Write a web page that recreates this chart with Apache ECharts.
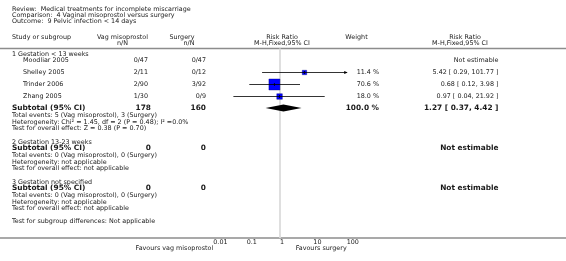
<!DOCTYPE html>
<html>
<head>
<meta charset="utf-8">
<script src="https://cdn.jsdelivr.net/npm/echarts@6/dist/echarts.min.js"></script>
<style>
  html, body { margin: 0; padding: 0; background: #fff; }
  #chart { width: 566px; height: 261px; }
</style>
</head>
<body>
<div id="chart"></div>
<script>
// ---- data ----
const titleLines = [
  "Review:  Medical treatments for incomplete miscarriage",
  "Comparison:  4 Vaginal misoprostol versus surgery",
  "Outcome:  9 Pelvic infection < 14 days",
];
const groupNames = ["1 Gestation < 13 weeks", "2 Gestation 13-23 weeks", "3 Gestation not specified"];

const studyNames = ["Moodliar 2005", "Shelley 2005", "Trinder 2006", "Zhang 2005"];
const studyGroup = [0, 0, 0, 0];
const studyVag = ["0/47", "2/11", "2/90", "1/30"];
const studySurg = ["0/47", "0/12", "3/92", "0/9"];
const studyRR = [null, 5.42, 0.68, 0.97];
const studyLo = [null, 0.29, 0.12, 0.04];
const studyHi = [null, 101.77, 3.98, 21.92];
const studyWeight = [null, 11.4, 70.6, 18.0];

const subVag = [178, 0, 0];
const subSurg = [160, 0, 0];
const subRR = [1.27, null, null];
const subLo = [0.37, null, null];
const subHi = [4.42, null, null];
const subWeight = [100.0, null, null];

const totalEvents = [
  "Total events: 5 (Vag misoprostol), 3 (Surgery)",
  "Total events: 0 (Vag misoprostol), 0 (Surgery)",
  "Total events: 0 (Vag misoprostol), 0 (Surgery)",
];
const heterogeneity = [
  "Heterogeneity: Chi² = 1.45, df = 2 (P = 0.48); I² =0.0%",
  "Heterogeneity: not applicable",
  "Heterogeneity: not applicable",
];
const overallEffect = [
  "Test for overall effect: Z = 0.38 (P = 0.70)",
  "Test for overall effect: not applicable",
  "Test for overall effect: not applicable",
];
const subgroupDiff = "Test for subgroup differences: Not applicable";
const axisTicks = [0.01, 0.1, 1, 10, 100];
const favoursLeft = "Favours vag misoprostol";
const favoursRight = "Favours surgery";

// ---- layout ----
const FONT = '"DejaVu Sans", Verdana, sans-serif';
const normal = "6.4px " + FONT;
const bold = "bold 7.4px " + FONT;
const ink = "#1a1a1a";
const plotLeft = 213.3, plotWidth = 133.4, axisY = 238, headerLineY = 48.5;
const colVag = 148, colSurg = 206, colWeight = 379, colRR = 498.5;

const fmtCI = (rr, lo, hi) => `${rr.toFixed(2)} [ ${lo.toFixed(2)}, ${hi.toFixed(2)} ]`;

const texts = [];
const txt = (text, x, y, font, align) =>
  texts.push({
    type: "text", x: x, y: y, silent: true,
    style: { text: text, font: font || normal, fill: ink, align: align || "left", verticalAlign: "middle" },
  });

titleLines.forEach((t, i) => txt(t, 12, 9 + i * 6.1));
txt("Study or subgroup", 12, 37.5);
txt("Vag misoprostol", 122.5, 37.5, normal, "center");
txt("n/N", 122.5, 43, normal, "center");
txt("Surgery", 182, 37.5, normal, "center");
txt("n/N", 189, 43, normal, "center");
txt("Risk Ratio", 282, 37.5, normal, "center");
txt("M-H,Fixed,95% CI", 282, 43, normal, "center");
txt("Weight", 356.5, 37.5, normal, "center");
txt("Risk Ratio", 465, 37.5, normal, "center");
txt("M-H,Fixed,95% CI", 460, 43, normal, "center");

const studyMarks = [];
const subMarks = [];
let y = 54;
groupNames.forEach((g, gi) => {
  txt(g, 12, y);
  const headerY = y;
  const idx = studyNames.map((_, i) => i).filter((i) => studyGroup[i] === gi);
  let subY = headerY + 6;
  if (idx.length) {
    let sy = headerY + 6.5;
    idx.forEach((i) => {
      txt(studyNames[i], 23, sy);
      txt(studyVag[i], colVag, sy, normal, "right");
      txt(studySurg[i], colSurg, sy, normal, "right");
      if (studyRR[i] == null) {
        txt("Not estimable", colRR, sy, normal, "right");
      } else {
        txt(studyWeight[i].toFixed(1) + " %", colWeight, sy, normal, "right");
        txt(fmtCI(studyRR[i], studyLo[i], studyHi[i]), colRR, sy, normal, "right");
        studyMarks.push([studyRR[i], studyLo[i], studyHi[i], studyWeight[i], sy]);
      }
      sy += 12;
    });
    subY = sy - 12 + 11.5;
  }
  txt("Subtotal (95% CI)", 12, subY, bold);
  txt(String(subVag[gi]), colVag + 3, subY, bold, "right");
  txt(String(subSurg[gi]), colSurg, subY, bold, "right");
  if (subRR[gi] == null) {
    txt("Not estimable", colRR, subY, bold, "right");
  } else {
    txt(subWeight[gi].toFixed(1) + " %", colWeight, subY, bold, "right");
    txt(fmtCI(subRR[gi], subLo[gi], subHi[gi]), colRR, subY, bold, "right");
    subMarks.push([subRR[gi], subLo[gi], subHi[gi], subWeight[gi], subY]);
  }
  txt(totalEvents[gi], 12, subY + 7.5);
  txt(heterogeneity[gi], 12, subY + 14);
  txt(overallEffect[gi], 12, subY + 20.5);
  y = subY + 20.5 + 13.5;
});
txt(subgroupDiff, 12, y - 0.5);
txt(favoursLeft, plotLeft, 248.5, normal, "right");
txt(favoursRight, plotLeft + plotWidth, 248.5, normal, "right");

const rules = [
  { type: "line", silent: true, z: -1, shape: { x1: 0, y1: headerLineY, x2: 566, y2: headerLineY }, style: { stroke: "#8c8c8c", lineWidth: 1.6 } },
  { type: "line", silent: true, z: -1, shape: { x1: 0, y1: axisY, x2: 566, y2: axisY }, style: { stroke: "#8c8c8c", lineWidth: 1.6 } },
];

const xMin = axisTicks[0], xMax = axisTicks[axisTicks.length - 1];

function renderStudy(params, api) {
  const rr = api.value(0), lo = api.value(1), hi = api.value(2), w = api.value(3), ry = api.value(4);
  const c = api.coord([rr, ry]);
  const a = api.coord([Math.max(lo, xMin), ry]);
  const b = api.coord([Math.min(hi, xMax), ry]);
  const s = 13.1 * Math.sqrt(w / 100);
  const kids = [
    { type: "rect", shape: { x: c[0] - s / 2, y: c[1] - s / 2, width: s, height: s }, style: { fill: "#0000ff", stroke: "#000080", lineWidth: 0.4 } },
    { type: "line", shape: { x1: a[0], y1: a[1], x2: b[0], y2: b[1] }, style: { stroke: "#000", lineWidth: 0.8 } },
    { type: "line", shape: { x1: c[0], y1: c[1] - 1.5, x2: c[0], y2: c[1] + 1.5 }, style: { stroke: "#000", lineWidth: 0.8 } },
  ];
  if (hi > xMax) {
    kids.push({ type: "polygon", shape: { points: [[b[0] + 1, b[1]], [b[0] - 2.5, b[1] - 1.5], [b[0] - 2.5, b[1] + 1.5]] }, style: { fill: "#000" } });
  }
  if (lo < xMin) {
    kids.push({ type: "polygon", shape: { points: [[a[0] - 1, a[1]], [a[0] + 2.5, a[1] - 1.5], [a[0] + 2.5, a[1] + 1.5]] }, style: { fill: "#000" } });
  }
  return { type: "group", children: kids };
}

function renderDiamond(params, api) {
  const rr = api.value(0), lo = api.value(1), hi = api.value(2), ry = api.value(4);
  const c = api.coord([rr, ry]);
  const a = api.coord([lo, ry]);
  const b = api.coord([hi, ry]);
  const h = 3.4;
  return {
    type: "polygon",
    shape: { points: [[a[0], c[1]], [c[0], c[1] - h], [b[0], c[1]], [c[0], c[1] + h]] },
    style: { fill: "#000" },
  };
}

function renderRef(params, api) {
  const top = api.coord([api.value(0), api.value(1)]);
  const bot = api.coord([api.value(0), api.value(2)]);
  return { type: "line", shape: { x1: top[0], y1: top[1], x2: bot[0], y2: bot[1] }, style: { stroke: "#dcdcdc", lineWidth: 1.8 } };
}

const chart = echarts.init(document.getElementById("chart"), null, { renderer: "canvas" });
chart.setOption({
  animation: false,
  backgroundColor: "#fff",
  grid: { left: plotLeft, width: plotWidth, top: 0, height: axisY, containLabel: false },
  xAxis: {
    type: "log", logBase: 10, min: xMin, max: xMax,
    axisLine: { show: false },
    axisTick: { show: true, inside: true, length: 3.5, lineStyle: { color: "#111", width: 1 } },
    axisLabel: {
      show: true, margin: 1.5, fontSize: 6.4, fontFamily: FONT, color: ink, align: "left",
      formatter: (v) => String(axisTicks.find((t) => Math.abs(Math.log10(t) - Math.log10(v)) < 1e-6) ?? v),
    },
    splitLine: { show: false },
    z: 5,
  },
  yAxis: { type: "value", min: 0, max: axisY, inverse: true, show: false },
  graphic: { elements: rules.concat(texts) },
  series: [
    { type: "custom", renderItem: renderRef, data: [[1, headerLineY, axisY]], z: 1, silent: true },
    { type: "custom", renderItem: renderStudy, data: studyMarks, z: 3, silent: true },
    { type: "custom", renderItem: renderDiamond, data: subMarks, z: 3, silent: true },
  ],
});
</script>
</body>
</html>
